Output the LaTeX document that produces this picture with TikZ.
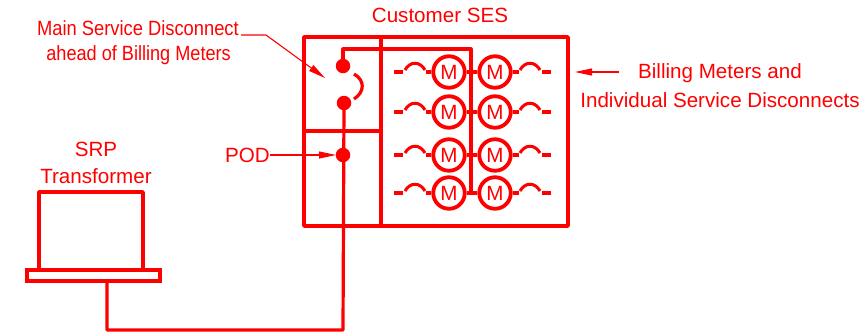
\documentclass[tikz,border=0pt]{standalone}
\usepackage{fontspec}
\setmainfont{Liberation Sans}
\usetikzlibrary{arrows.meta,calc}
\definecolor{cadred}{RGB}{255,0,0}
\tikzset{
  heavy/.style={draw=cadred,line width=3.6pt,line join=round},
  wirew/.style={draw=cadred,line width=3.2pt,line join=round},
  leader/.style={draw=cadred,line width=1.1pt,-{Triangle[length=17pt,width=7pt]}},
  lbl/.style={text=cadred,font=\fontsize{20.6}{24}\selectfont,inner sep=0pt,align=center},
  dot/.style={circle,fill=cadred,minimum size=14.5pt,inner sep=0pt},
  meter/.style={circle,draw=cadred,line width=3.8pt,minimum size=31.5pt,inner sep=0pt,text=cadred,font=\fontsize{20.6}{24}\selectfont},
  tick/.style={draw=cadred,line width=3.4pt},
  arcw/.style={draw=cadred,line width=3pt}
}
\newcommand{\meterrow}[2]{%
  \node[meter] (L#1) at (449,#2) {M};
  \node[meter] (R#1) at (495,#2) {M};
  \coordinate (LA#1) at (426,#2);
  \coordinate (RA#1) at (519,#2);
  \draw[tick] (L#1.west) -- (LA#1);
  \draw[tick] (R#1.east) -- (RA#1);
  \draw[tick] (394,#2) -- (403,#2);
  \draw[tick] (542,#2) -- (551,#2);
  \draw[arcw] (405,#2-2) .. controls (410,#2-11) and (420,#2-11) .. (425,#2-2);
  \draw[arcw] (520,#2-2) .. controls (525,#2-11) and (535,#2-11) .. (540,#2-2);
}
\begin{document}
\begin{tikzpicture}[x=1pt,y=-1pt]
\useasboundingbox (0,0) rectangle (864,333);
% enclosure
\draw[heavy] (304,37) rectangle (568,226);
\draw[heavy] (381,37) -- (381,226);
\draw[heavy] (304,131) -- (381,131);
% switch and POD
\node[dot] (S1) at (343,66) {};
\node[dot] (S2) at (344,103) {};
\node[dot] (P) at (343,155) {};
\draw[arcw,line width=3.2pt] (354,74) .. controls (365,80) and (365,92) .. (354,99);
% bus
\coordinate (BT) at (471,49);
\coordinate (BB) at (471,193);
\draw[wirew] (S1.center) -- (343,49) -- (BT) -- (BB);
% meters
\meterrow{1}{72}
\meterrow{2}{112}
\meterrow{3}{155}
\meterrow{4}{193}
\draw[tick] (L1.east) -- (R1.west);
\draw[tick] (L2.east) -- (R2.west);
\draw[tick] (L3.east) -- (R3.west);
\draw[tick] (L4.east) -- (R4.west);
% transformer
\draw[heavy] (39,270) -- (39,192) -- (143,192) -- (143,270);
\node[draw=cadred,line width=3.4pt,minimum width=133pt,minimum height=11pt,inner sep=0pt] (TB) at (93.5,275.5) {};
\coordinate (TT) at (107,281);
\draw[wirew] (S2.center) -- (343,330) -- (107,330) -- (TT);
% labels
\node[lbl] (SES) at (440,15) {Customer SES};
\node[lbl,anchor=east] (MS1) at (239,28) {\scalebox{0.89}[1]{Main Service Disconnect}};
\node[lbl,anchor=east] (MS2) at (231,55) {\scalebox{0.88}[1]{ahead of Billing Meters}};
\node[lbl] (SRP) at (96,149) {SRP};
\node[lbl] (TR) at (96,176) {Transformer};
\node[lbl,anchor=east] (POD) at (270,155) {POD};
\node[lbl] (BM1) at (720,73) {Billing Meters and};
\node[lbl] (BM2) at (720,100) {Individual Service Disconnects};
% leaders
\coordinate (SA) at (325,78);
\coordinate (PA) at (336,155);
\coordinate (BA) at (575,72);
\coordinate (MSS) at (241,35);
\draw[leader] (MSS) -- (266,35) -- (SA);
\draw[leader] (POD.east) -- (PA);
\coordinate (BS) at (619,72);
\draw[leader] (BS) -- (BA);
\end{tikzpicture}
\end{document}
